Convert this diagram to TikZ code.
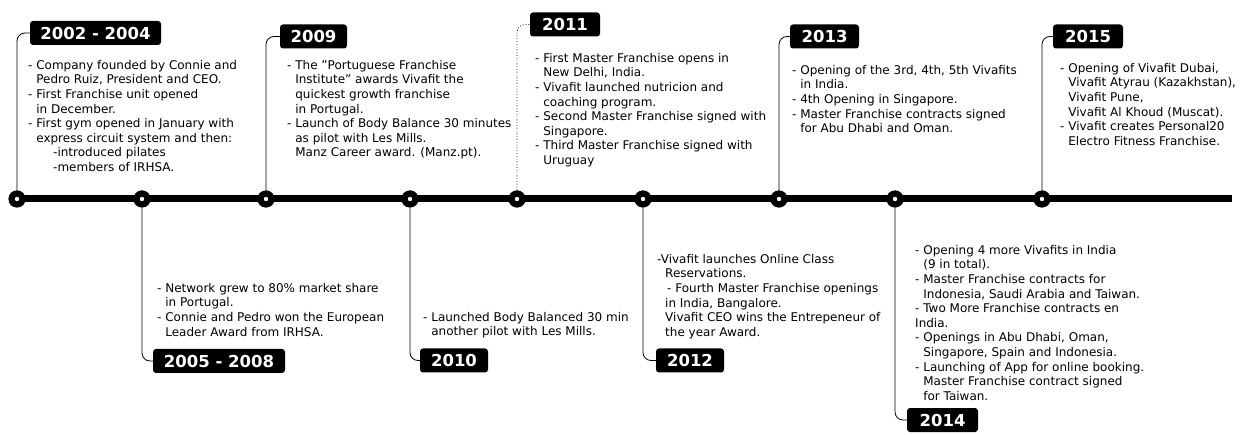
\documentclass[tikz,border=0pt]{standalone}
\usepackage{fontspec}
\setmainfont{DejaVu Sans}
\newcommand{\ind}{\hphantom{- }}
\tikzset{
  yearbox/.style={fill=black, rounded corners=3pt, text=white, font=\bfseries\fontsize{16.5}{18}\selectfont, inner sep=0pt, minimum height=24pt},
  info/.style={anchor=north west, inner sep=0pt, align=left, font=\fontsize{12}{14.6}\selectfont},
  tdot/.style={circle, fill=black, minimum size=17pt, inner sep=0pt},
  link/.style={line width=0.8pt, rounded corners=8pt},
  axisline/.style={line width=7pt}
}
\begin{document}
\begin{tikzpicture}[x=1pt,y=-1pt]
\useasboundingbox (0,0) rectangle (1242,435);
% axis
\coordinate (axend) at (1232,199);
\node[tdot] (c1) at (17,199) {};
\node[tdot] (c2) at (142,199) {};
\node[tdot] (c3) at (266,199) {};
\node[tdot] (c4) at (410,199) {};
\node[tdot] (c5) at (517,199) {};
\node[tdot] (c6) at (643,199) {};
\node[tdot] (c7) at (779,199) {};
\node[tdot] (c8) at (895,199) {};
\node[tdot] (c9) at (1042,199) {};
\draw[axisline] (c1.center) -- (axend);
\foreach \i in {1,...,9} {
  \node[tdot] at (c\i) {};
  \fill[white] (c\i) circle (2.2);
}
% year boxes
\node[yearbox, minimum width=131pt] (y1) at (95.5,33) {2002 - 2004};
\node[yearbox, minimum width=67pt] (y3) at (313.5,36.5) {2009};
\node[yearbox, minimum width=70pt] (y5) at (565,24.5) {2011};
\node[yearbox, minimum width=69pt] (y7) at (824.5,36.5) {2013};
\node[yearbox, minimum width=70pt] (y9) at (1088,36.5) {2015};
\node[yearbox, minimum width=132pt] (y2) at (219,361) {2005 - 2008};
\node[yearbox, minimum width=68pt] (y4) at (454,360.5) {2010};
\node[yearbox, minimum width=68pt] (y6) at (690,360.5) {2012};
\node[yearbox, minimum width=71pt] (y8) at (942.5,420) {2014};
% connectors
\draw[link] (c1) |- (y1);
\draw[link] (c3) |- (y3);
\draw[link, dotted] (c5) |- (y5);
\draw[link] (c7) |- (y7);
\draw[link] (c9) |- (y9);
\draw[link] (c2) |- (y2);
\draw[link] (c4) |- (y4);
\draw[link] (c6) |- (y6);
\draw[link] (c8) |- (y8);
% texts
\node[info] (t1) at (28,60) {- Company founded by Connie and\\
\ind Pedro Ruiz, President and CEO.\\
- First Franchise unit opened\\
\ind in December.\\
- First gym opened in January with\\
\ind express circuit system and then:\\
\hspace*{25pt}-introduced pilates\\
\hspace*{25pt}-members of IRHSA.};
\node[info] (t3) at (287,60) {- The "Portuguese Franchise\\
\ind Institute" awards Vivafit the\\
\ind quickest growth franchise\\
\ind in Portugal.\\
- Launch of Body Balance 30 minutes\\
\ind as pilot with Les Mills.\\
\ind Manz Career award. (Manz.pt).};
\node[info] (t5) at (535,53) {- First Master Franchise opens in\\
\ind New Delhi, India.\\
- Vivafit launched nutricion and\\
\ind coaching program.\\
- Second Master Franchise signed with\\
\ind Singapore.\\
- Third Master Franchise signed with\\
\ind Uruguay};
\node[info] (t7) at (792,65) {- Opening of the 3rd, 4th, 5th Vivafits\\
\ind in India.\\
- 4th Opening in Singapore.\\
- Master Franchise contracts signed\\
\ind for Abu Dhabi and Oman.};
\node[info] (t9) at (1060,63) {- Opening of Vivafit Dubai,\\
\ind Vivafit Atyrau (Kazakhstan),\\
\ind Vivafit Pune,\\
\ind Vivafit Al Khoud (Muscat).\\
- Vivafit creates Personal20\\
\ind Electro Fitness Franchise.};
\node[info] (t2) at (157,283) {- Network grew to 80\% market share\\
\ind in Portugal.\\
- Connie and Pedro won the European\\
\ind Leader Award from IRHSA.};
\node[info] (t4) at (423,312) {- Launched Body Balanced 30 min\\
\ind another pilot with Les Mills.};
\node[info] (t6) at (665,254) {\hspace*{-8pt}-Vivafit launches Online Class\\
Reservations.\\
\hspace*{2pt}- Fourth Master Franchise openings\\
in India, Bangalore.\\
Vivafit CEO wins the Entrepeneur of\\
the year Award.};
\node[info] (t8) at (915,245) {- Opening 4 more Vivafits in India\\
\ind (9 in total).\\
- Master Franchise contracts for\\
\ind Indonesia, Saudi Arabia and Taiwan.\\
- Two More Franchise contracts en\\
India.\\
- Openings in Abu Dhabi, Oman,\\
\ind Singapore, Spain and Indonesia.\\
- Launching of App for online booking.\\
\ind Master Franchise contract signed\\
\ind for Taiwan.};
\end{tikzpicture}
\end{document}
